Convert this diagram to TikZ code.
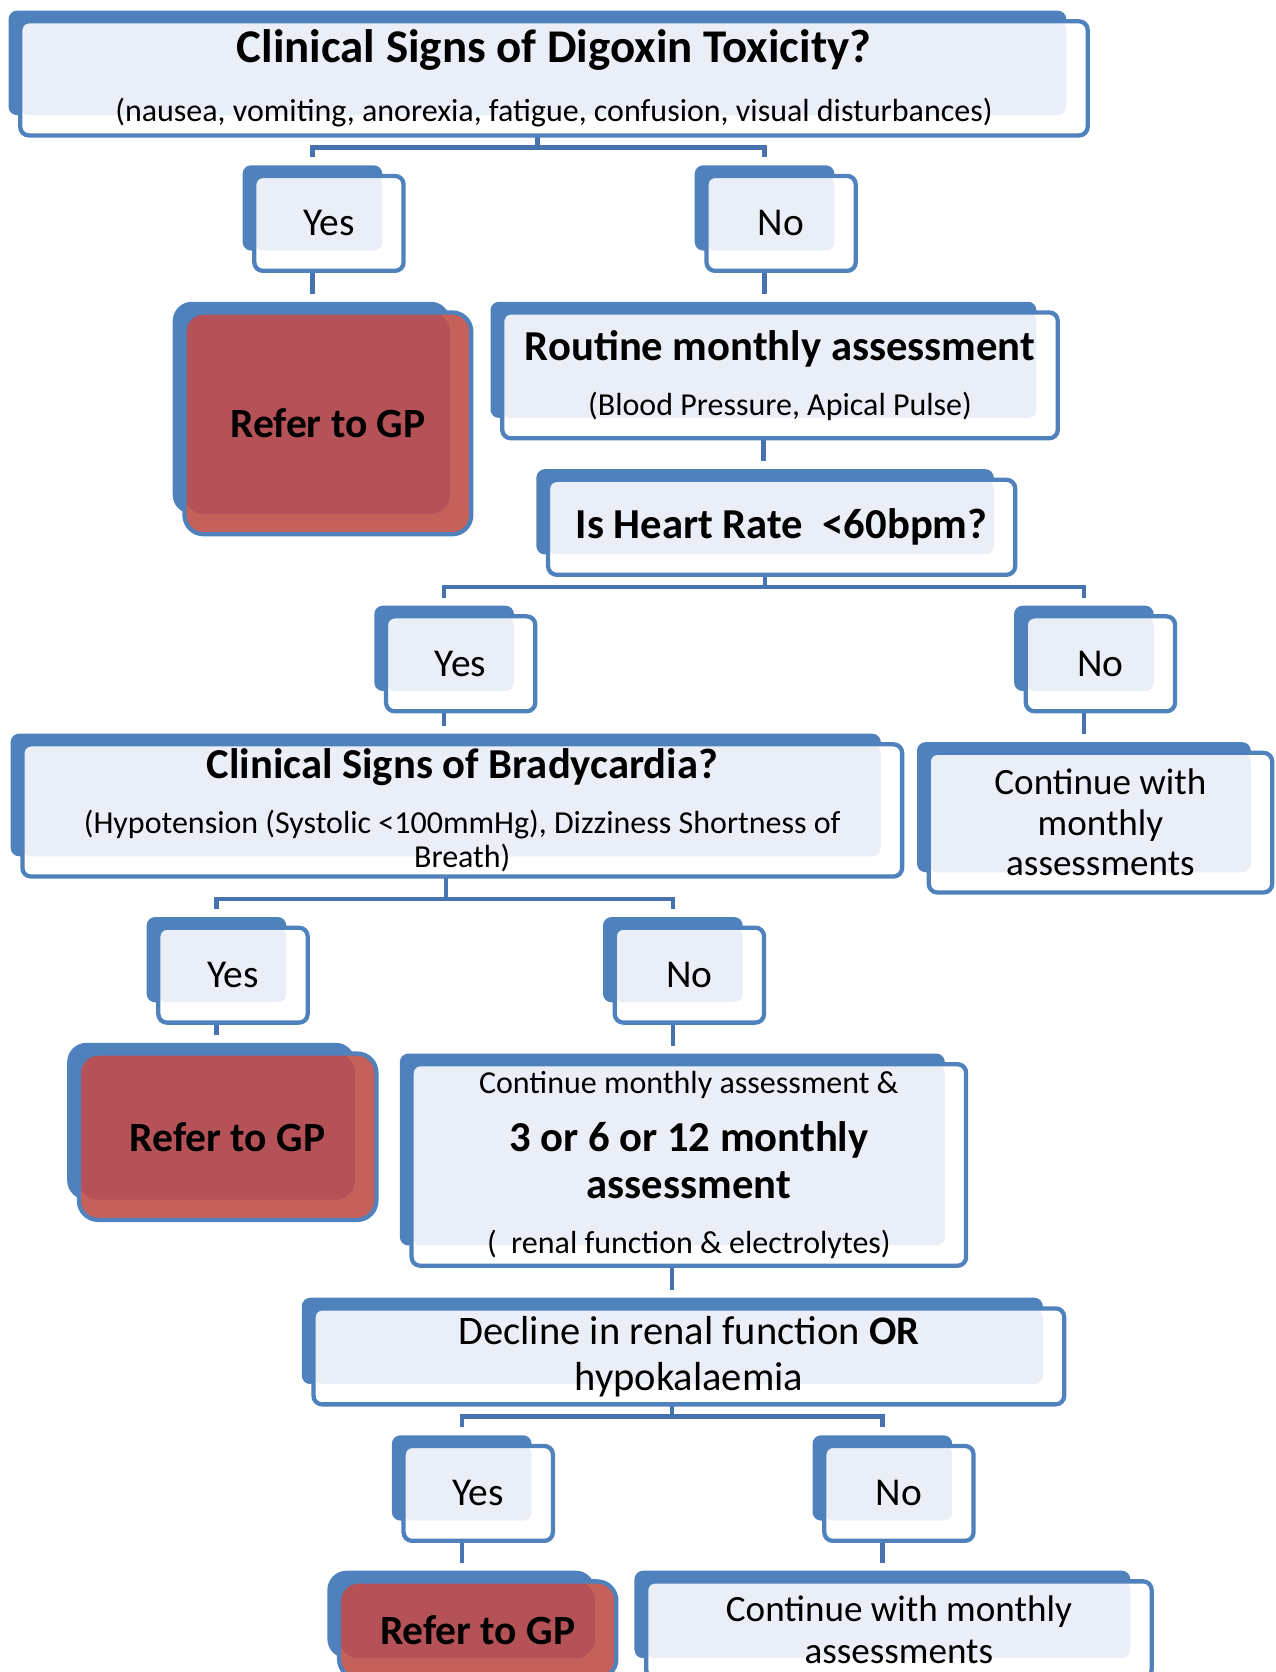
\documentclass[tikz,border=0pt]{standalone}
\usepackage{fontspec}
\setmainfont{Carlito}
\usetikzlibrary{backgrounds}

\definecolor{boxblue}{RGB}{79,129,189}
\definecolor{paleblue}{RGB}{234,239,247}
\definecolor{linkblue}{RGB}{70,115,175}
\definecolor{softred}{RGB}{197,96,91}
\definecolor{deepred}{RGB}{180,82,87}

\begin{document}
\begin{tikzpicture}[x=0.5pt, y=-0.5pt,
  back/.style 2 args={fill=boxblue, rounded corners=4pt, inner sep=0pt,
    minimum width={#1*0.5pt}, minimum height={#2*0.5pt}},
  front/.style 2 args={draw=boxblue, line width=2pt, fill=white, rounded corners=4pt,
    inner sep=0pt, align=center,
    minimum width={(#1+9)*0.5pt}, minimum height={(#2+9)*0.5pt},
    path picture={\fill[paleblue, rounded corners=4pt] (path picture bounding box.north west)
      rectangle ([shift={(-20,-19)}]path picture bounding box.south east);}},
  gpback/.style 2 args={back={#1}{#2}, rounded corners=9pt},
  gpfront/.style 2 args={draw=boxblue, line width=2pt, fill=softred, rounded corners=9pt,
    inner sep=0pt, font=\fontsize{19.5}{23}\selectfont\bfseries,
    minimum width={(#1+9)*0.5pt}, minimum height={(#2+9)*0.5pt},
    path picture={\fill[deepred, rounded corners=9pt] (path picture bounding box.north west)
      rectangle ([shift={(-20,-19)}]path picture bounding box.south east);}},
  link/.style={draw=linkblue, line width=2pt, shorten >=3.5pt}]

\useasboundingbox (0,0) rectangle (1196,1568);
\clip (0,0) rectangle (1196,1568);

% first question
\node[back={992}{98}] (dig) at (504,59) {};
\node[front={992}{98}, font=\fontsize{15}{28}\selectfont] (dig-f) at ([shift={(15.5,14.5)}]dig)
  {{\fontsize{22}{26}\selectfont\bfseries Clinical Signs of Digoxin Toxicity?}\\(nausea, vomiting, anorexia, fatigue, confusion, visual disturbances)};

% yes / no answers
\foreach \n/\x/\y/\t in {yes1/293/195/Yes, no1/717/195/No, yes2/416.5/608/Yes, no2/1016.5/608/No,
    yes3/203/900/Yes, no3/631/900/No, yes4/433/1386/Yes, no4/827.5/1386/No} {
  \node[back={131}{80}] (\n) at (\x,\y) {};
  \node[front={131}{80}, font=\fontsize{18.5}{22}\selectfont] (\n-f) at ([shift={(15.5,14.5)}]\n) {\t};
}

% refer to GP
\foreach \n/\x/\y/\w/\h in {gp1/292/382.5/260/199, gp2/198/1051.5/270/147, gp3/432.5/1514/251/82} {
  \node[gpback={\w}{\h}] (\n) at (\x,\y) {};
  \node[gpfront={\w}{\h}] (\n-f) at ([shift={(15.5,14.5)}]\n) {Refer to GP};
}

% monthly route
\node[back={512}{109}] (rout) at (716,337.5) {};
\node[front={512}{109}, font=\fontsize{15}{26}\selectfont] (rout-f) at ([shift={(15.5,14.5)}]rout)
  {{\fontsize{20}{24}\selectfont\bfseries Routine monthly assessment}\\(Blood Pressure, Apical Pulse)};

\node[back={429}{80}] (hr) at (717.5,480) {};
\node[front={429}{80}, font=\fontsize{20}{24}\selectfont\bfseries] (hr-f) at ([shift={(15.5,14.5)}]hr)
  {Is Heart Rate~ <60bpm?};

\node[back={816}{115}] (brady) at (418,745.5) {};
\node[front={816}{115}, font=\fontsize{15}{16}\selectfont] (brady-f) at ([shift={(15.5,14.5)}]brady)
  {{\fontsize{20}{24}\selectfont\bfseries Clinical Signs of Bradycardia?}\\[10pt](Hypotension (Systolic <100mmHg), Dizziness Shortness of\\Breath)};

\node[back={313}{122}] (cont1) at (1016.5,757) {};
\node[front={313}{122}, font=\fontsize{17.4}{19}\selectfont] (cont1-f) at ([shift={(15.5,14.5)}]cont1)
  {Continue with\\monthly\\assessments};

\node[back={511}{180}] (cont2) at (630.5,1078) {};
\node[front={511}{180}, font=\fontsize{15}{22}\selectfont] (cont2-f) at ([shift={(15.5,14.5)}]cont2)
  {Continue monthly assessment \&\\[5pt]{\fontsize{20}{24}\selectfont\bfseries 3 or 6 or 12 monthly}\\{\fontsize{20}{24}\selectfont\bfseries assessment}\\[4pt](~ renal function \& electrolytes)};

\node[back={695}{81}] (decl) at (630.5,1257.5) {};
\node[front={695}{81}, font=\fontsize{19}{21.5}\selectfont] (decl-f) at ([shift={(15.5,14.5)}]decl)
  {Decline in renal function \textbf{OR}\\hypokalaemia};

\node[back={465}{82}] (cont3) at (827.5,1514) {};
\node[front={465}{82}, font=\fontsize{17.4}{19.5}\selectfont] (cont3-f) at ([shift={(15.5,14.5)}]cont3)
  {Continue with monthly\\assessments};

% connectors
\begin{scope}[on background layer]
  \draw[link] (dig.south) -- ++(0,30) coordinate (dig-j) -| (yes1.north);
  \draw[link] (dig-j) -| (no1.north);
  \draw[link] (yes1.south) -- (yes1.south |- gp1.north);
  \draw[link] (no1.south) -- (no1.south |- rout.north);
  \draw[link] (rout.south) -- (rout.south |- hr.north);
  \draw[link] (hr.south) -- ++(0,30) coordinate (hr-j) -| (yes2.north);
  \draw[link] (hr-j) -| (no2.north);
  \draw[link] (yes2.south) -- (yes2.south |- brady.north);
  \draw[link] (no2.south) -- (no2.south |- cont1.north);
  \draw[link] (brady.south) -- ++(0,40) coordinate (brady-j) -| (yes3.north);
  \draw[link] (brady-j) -| (no3.north);
  \draw[link] (yes3.south) -- (yes3.south |- gp2.north);
  \draw[link] (no3.south) -- (no3.south |- cont2.north);
  \draw[link] (cont2.south) -- (cont2.south |- decl.north);
  \draw[link] (decl.south) -- ++(0,30) coordinate (decl-j) -| (yes4.north);
  \draw[link] (decl-j) -| (no4.north);
  \draw[link] (yes4.south) -- (yes4.south |- gp3.north);
  \draw[link] (no4.south) -- (no4.south |- cont3.north);
\end{scope}
\end{tikzpicture}
\end{document}
